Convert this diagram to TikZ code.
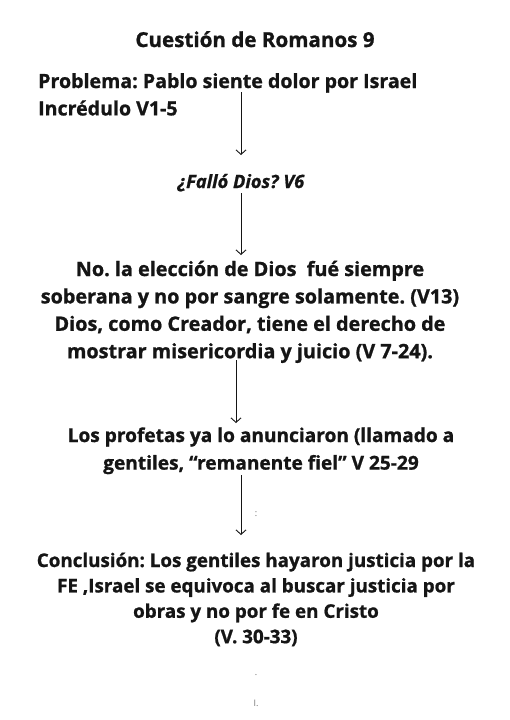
\documentclass[tikz,border=0pt]{standalone}
\usepackage{fontspec}
\setmainfont{Open Sans}[BoldFeatures={FakeBold=1},BoldItalicFeatures={FakeBold=1}]
\usetikzlibrary{arrows.meta}
\definecolor{ink}{HTML}{151515}
\frenchspacing
\newcommand{\blk}[2]{{\setlength{\tabcolsep}{0pt}\begin{tabular}[t]{#1}#2\end{tabular}}}
\tikzset{
  txt/.style={inner sep=0pt, text=ink, font=\fontsize{19.8}{27.4}\selectfont\bfseries},
  txtl/.style={inner sep=0pt, text=ink, font=\fontsize{19.6}{27.4}\selectfont\bfseries},
  txtt/.style={inner sep=0pt, text=ink, font=\fontsize{20.6}{27.4}\selectfont\bfseries},
  txtp/.style={inner sep=0pt, text=ink, font=\fontsize{19.1}{27.6}\selectfont\bfseries},
  txtit/.style={inner sep=0pt, text=ink, font=\fontsize{18.3}{22}\selectfont\bfseries\itshape},
  txtc/.style={inner sep=0pt, text=ink, font=\fontsize{18.8}{25.4}\selectfont\bfseries},
  speck/.style={inner sep=0pt, text=black!55, font=\fontsize{9}{10}\selectfont},
  arr/.style={draw=ink, line width=0.9pt, -{Straight Barb[length=4.5pt,width=10pt]}}
}
\begin{document}
\begin{tikzpicture}[x=1pt,y=-1pt]
\useasboundingbox[fill=white] (0,0) rectangle (509,720);
\node[txtt, anchor=base] (title) at (255,47) {Cuestión de Romanos 9};
\node[txtl, anchor=base west] (prob) at (38,88) {\blk{l}{Problema: Pablo siente dolor por Israel\\Incrédulo V1-5}};
\node[txtit, anchor=base] (q) at (241,188) {¿Falló Dios? V6};
\node[txt, anchor=base] (no) at (250,276) {\blk{c}{No. la elección de Dios\ \ fué siempre\\soberana y no por sangre solamente. (V13)\\Dios, como Creador, tiene el derecho de\\mostrar misericordia y juicio (V 7-24).}};
\node[txtp, anchor=base] (prof) at (261,442) {\blk{c}{Los profetas ya lo anunciaron (llamado a\\gentiles, “remanente fiel” V 25-29}};
\node[txtc, anchor=base] (conc) at (256,567) {\blk{c}{Conclusión: Los gentiles hayaron justicia por la\\FE ,Israel se equivoca al buscar justicia por\\obras y no por fe en Cristo\\(V. 30-33)}};
\node[speck, anchor=base] (s1) at (256,516) {:};
\node[speck, anchor=base] (s2) at (256,675) {.};
\node[speck, anchor=base] (s3) at (256,706) {I.};
\coordinate (a1s) at (241,92);  \coordinate (a1e) at (241,155);
\coordinate (a2s) at (241,193); \coordinate (a2e) at (241,255);
\coordinate (a3s) at (236,360); \coordinate (a3e) at (236,423);
\coordinate (a4s) at (241,475); \coordinate (a4e) at (241,535);
\draw[arr] (a1s) -- (a1e);
\draw[arr] (a2s) -- (a2e);
\draw[arr] (a3s) -- (a3e);
\draw[arr] (a4s) -- (a4e);
\end{tikzpicture}
\end{document}
